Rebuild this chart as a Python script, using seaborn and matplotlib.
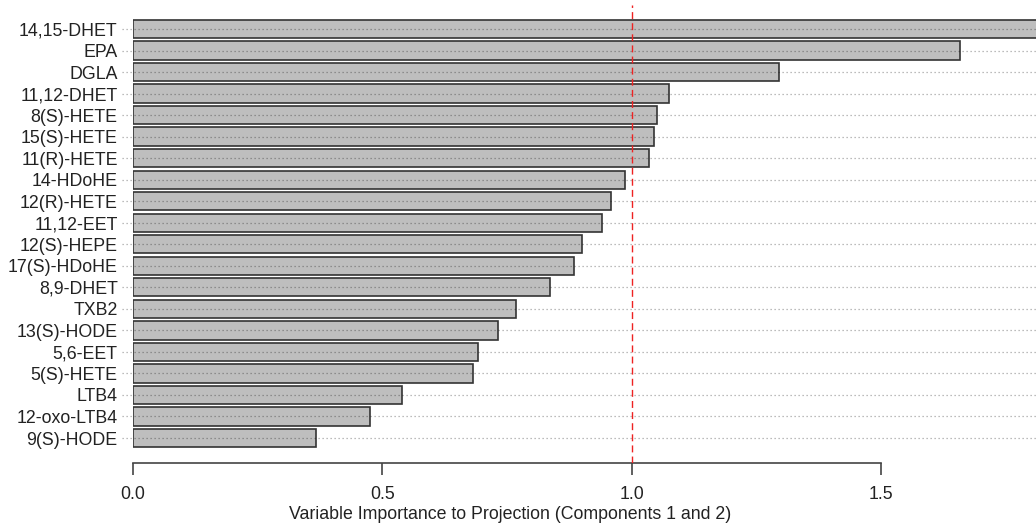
import numpy as np
import pandas as pd
import matplotlib
matplotlib.use("Agg")
import matplotlib.pyplot as plt
import seaborn as sns

# VIP scores, top to bottom
metabolites = ["14,15-DHET", "EPA", "DGLA", "11,12-DHET", "8(S)-HETE", "15(S)-HETE",
               "11(R)-HETE", "14-HDoHE", "12(R)-HETE", "11,12-EET", "12(S)-HEPE",
               "17(S)-HDoHE", "8,9-DHET", "TXB2", "13(S)-HODE", "5,6-EET", "5(S)-HETE",
               "LTB4", "12-oxo-LTB4", "9(S)-HODE"]
vip = [1.87, 1.658, 1.295, 1.075, 1.051, 1.045, 1.035, 0.987, 0.958, 0.940, 0.900,
       0.884, 0.836, 0.768, 0.732, 0.692, 0.682, 0.539, 0.475, 0.367]
xticks = [0.0, 0.5, 1.0, 1.5]
threshold = 1.0

df = pd.DataFrame({"metabolite": metabolites, "vip": vip})

sns.set_style("white")
plt.rcParams["font.family"] = ["Liberation Sans", "DejaVu Sans"]
plt.rcParams["font.size"] = 12.8

fig = plt.figure(figsize=(10.36, 5.25), dpi=100)
ax = fig.add_axes([133 / 1036, 1 - 463 / 525, (1036 - 133) / 1036, (463 - 5) / 525])

sns.barplot(data=df, x="vip", y="metabolite", orient="h", color="#bebebe",
            edgecolor="#333333", linewidth=1.2, width=0.85, saturation=1, ax=ax, zorder=2)

xmax = (1036 - 133) / 498.7
ax.set_xlim(0, xmax)
n = len(metabolites)
ax.set_ylim(n - 1 + (463 - 438) / 21.53, -(29 - 5) / 21.53)

# dotted guide lines for every row, reaching out to the labels
ax.hlines(range(n), -0.022, xmax, colors="k", alpha=0.35, linewidth=0.9,
          linestyles=(0, (1, 2.2)), zorder=3, clip_on=False)

ax.axvline(threshold, color="#ee2222", linestyle=(0, (5, 3)), linewidth=1, zorder=4)

for s in ["top", "right", "left"]:
    ax.spines[s].set_visible(False)
ax.spines["bottom"].set_bounds(0, 1.5)
ax.spines["bottom"].set_color("#444444")
ax.spines["bottom"].set_linewidth(1.2)

ax.set_xticks(xticks)
ax.set_xticklabels([f"{t:.1f}" for t in xticks])
ax.tick_params(axis="x", bottom=True, length=8.5, width=1.2, color="#444444", pad=8,
               labelcolor="#222222")
ax.tick_params(axis="y", left=False, length=0, pad=11, labelcolor="#222222")
ax.set_ylabel("")
ax.set_xlabel("Variable Importance to Projection (Components 1 and 2)", color="#222222")
ax.xaxis.set_label_coords((510 - 133) / 903, -0.094)

fig.savefig("out.png", dpi=100)
